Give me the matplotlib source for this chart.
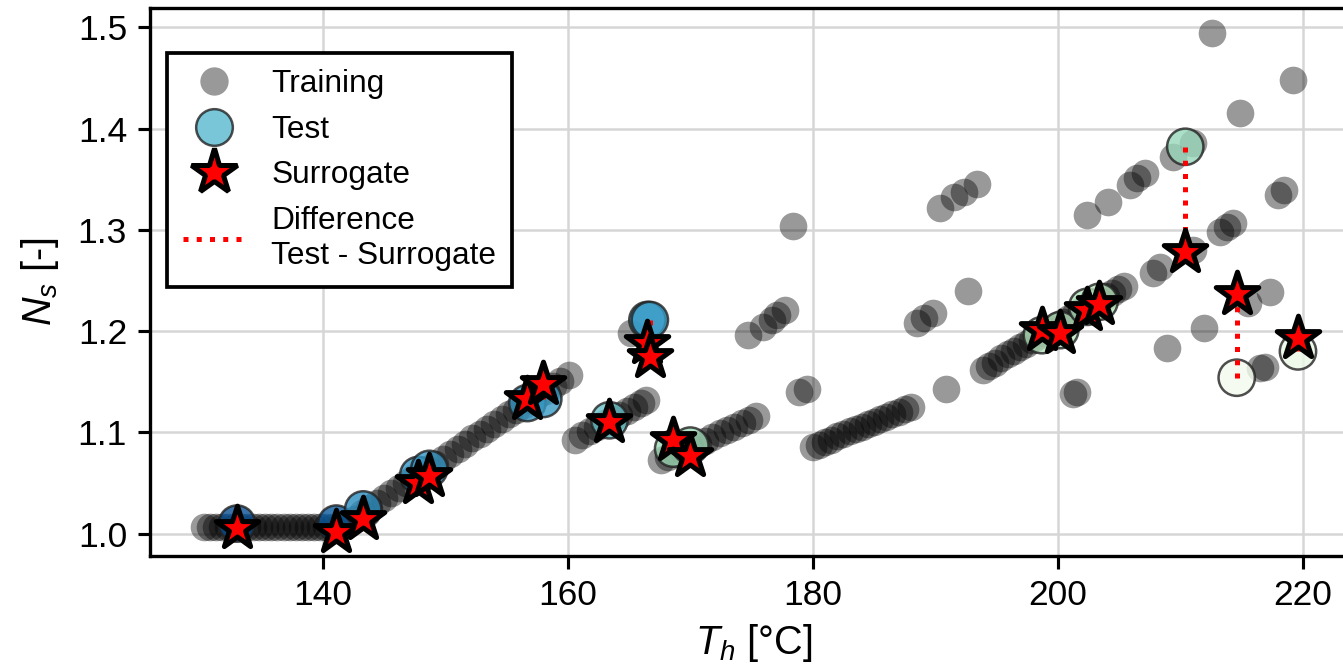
import matplotlib
matplotlib.use("Agg")
import matplotlib.pyplot as plt
from matplotlib.lines import Line2D

plt.rcParams["font.family"] = ["Liberation Sans", "DejaVu Sans"]
plt.rcParams["mathtext.fontset"] = "custom"
plt.rcParams["mathtext.rm"] = "Liberation Sans"
plt.rcParams["mathtext.it"] = "Liberation Sans:italic"

# --- donnees d'entrainement ---
plateau_T = [130.3, 130.8, 131.3, 131.8, 132.3, 132.8, 133.3, 133.8, 134.3, 134.8, 135.3, 135.8,
             136.3, 136.8, 137.3, 137.8, 138.3, 138.8, 139.3, 139.8, 140.3, 140.8, 141.3]
plateau_N = [1.007, 1.007, 1.007, 1.007, 1.007, 1.007, 1.007, 1.007, 1.007, 1.007, 1.007, 1.007,
             1.007, 1.007, 1.007, 1.007, 1.007, 1.007, 1.007, 1.007, 1.007, 1.007, 1.008]

rise_T = [142.0, 142.6, 143.2, 143.8, 144.4, 145.0, 145.6, 146.2, 146.8, 147.4, 148.0, 148.6,
          149.2, 149.8, 150.4, 151.0, 151.6, 152.2, 152.8, 153.4, 154.0, 154.6, 155.2, 155.8,
          156.4, 157.0, 157.6, 158.2, 158.8, 159.4, 160.1]
rise_N = [1.010, 1.015, 1.020, 1.025, 1.030, 1.035, 1.040, 1.045, 1.050, 1.055, 1.059, 1.064,
          1.069, 1.074, 1.079, 1.084, 1.089, 1.094, 1.098, 1.103, 1.108, 1.113, 1.118, 1.122,
          1.127, 1.132, 1.137, 1.141, 1.146, 1.151, 1.157]

seg_c_T = [160.6, 161.2, 161.8, 162.4, 163.0, 163.6, 164.2, 164.8, 165.4, 166.0, 166.4, 165.2]
seg_c_N = [1.093, 1.097, 1.101, 1.105, 1.109, 1.113, 1.117, 1.121, 1.125, 1.129, 1.132, 1.198]

seg_d_T = [167.6, 168.2, 168.8, 169.4, 170.0, 170.6, 171.2, 171.8, 172.4, 173.0, 173.6, 174.2,
           174.8, 175.4]
seg_d_N = [1.073, 1.076, 1.079, 1.082, 1.086, 1.089, 1.092, 1.095, 1.099, 1.102, 1.105, 1.109,
           1.112, 1.116]

mid_T = [174.7, 175.9, 176.7, 177.1, 177.7, 178.4, 178.9, 179.5,
         188.5, 189.1, 189.8, 190.9, 192.7, 190.4, 191.5, 192.3, 193.4]
mid_N = [1.196, 1.204, 1.211, 1.216, 1.221, 1.304, 1.140, 1.143,
         1.208, 1.213, 1.218, 1.143, 1.240, 1.322, 1.332, 1.337, 1.345]

seg_e_T = [180.0, 180.5, 181.0, 181.5, 182.0, 182.5, 183.0, 183.5, 184.0, 184.5, 185.0, 185.5,
           186.0, 186.5, 187.0, 187.5, 188.0]
seg_e_N = [1.086, 1.088, 1.091, 1.093, 1.096, 1.098, 1.101, 1.103, 1.105, 1.108, 1.110, 1.113,
           1.115, 1.118, 1.120, 1.123, 1.125]

seg_f_T = [193.9, 194.4, 194.9, 195.4, 195.9, 196.4, 196.9, 197.4, 197.9, 198.4, 198.9, 199.4,
           199.9, 200.4, 200.9, 201.4, 201.9, 202.4, 202.9, 203.4, 203.9, 204.4, 204.9, 205.4,
           207.8, 208.3, 211.0, 213.2, 213.8, 214.3]
seg_f_N = [1.162, 1.166, 1.169, 1.173, 1.177, 1.180, 1.184, 1.187, 1.191, 1.195, 1.198, 1.202,
           1.206, 1.209, 1.213, 1.217, 1.220, 1.224, 1.227, 1.231, 1.235, 1.238, 1.242, 1.245,
           1.257, 1.263, 1.280, 1.298, 1.303, 1.307]

upper_T = [202.4, 204.1, 205.9, 206.5, 207.1, 209.4, 211.0,
           212.6, 214.9, 219.2, 218.0, 218.5, 217.3, 215.5, 216.5, 216.9,
           208.9, 211.9, 201.2, 201.6]
upper_N = [1.315, 1.327, 1.344, 1.351, 1.356, 1.372, 1.386,
           1.494, 1.415, 1.448, 1.334, 1.339, 1.239, 1.228, 1.164, 1.165,
           1.183, 1.203, 1.138, 1.140]

train_T = plateau_T + rise_T + seg_c_T + seg_d_T + mid_T + seg_e_T + seg_f_T + upper_T
train_N = plateau_N + rise_N + seg_c_N + seg_d_N + mid_N + seg_e_N + seg_f_N + upper_N

# --- points de test et prediction du substitut ---
test_T = [133.0, 141.1, 143.3, 147.8, 148.7, 156.7, 158.0, 163.4, 166.5, 166.7,
          168.6, 170.0, 198.7, 200.2, 202.4, 203.4, 210.4, 214.6, 219.6]
test_N = [1.010, 1.010, 1.024, 1.058, 1.064, 1.129, 1.133, 1.112, 1.211, 1.211,
          1.084, 1.087, 1.196, 1.201, 1.224, 1.229, 1.382, 1.154, 1.180]
surr_N = [1.006, 1.002, 1.015, 1.050, 1.057, 1.133, 1.148, 1.110, 1.188, 1.174,
          1.093, 1.077, 1.201, 1.198, 1.221, 1.227, 1.278, 1.237, 1.193]
test_c = [0.95, 0.92, 0.75, 0.72, 0.72, 0.72, 0.70, 0.55, 0.70, 0.70,
          0.40, 0.40, 0.33, 0.33, 0.35, 0.33, 0.42, 0.02, 0.06]

fig = plt.figure(figsize=(1343 / 300, 671 / 300), dpi=300)
ax = fig.add_axes([150 / 1343, 115 / 671, 1208 / 1343, 548 / 671])

ax.grid(color="#d6d6d6", lw=0.6)
ax.set_axisbelow(True)

ax.scatter(train_T, train_N, s=44, c="k", alpha=0.4, lw=0, zorder=2)
ax.scatter(test_T, test_N, s=76, c=test_c, cmap="GnBu", vmin=0, vmax=1, alpha=0.8,
           edgecolors="#222222", linewidths=0.6, zorder=3)
for t, yt, ys in zip(test_T, test_N, surr_N):
    ax.plot([t, t], [yt, ys], color="red", ls=":", lw=1.2, zorder=4)
ax.scatter(test_T, surr_N, marker="*", s=115, c="red", edgecolors="k", linewidths=1.2, zorder=5)

ax.set_xlim(125.9, 224.5)
ax.set_ylim(0.978, 1.519)
ax.set_xticks([140, 160, 180, 200, 220])
ax.set_yticks([1.0, 1.1, 1.2, 1.3, 1.4, 1.5])
ax.set_yticklabels(["1.0", "1.1", "1.2", "1.3", "1.4", "1.5"])
ax.tick_params(labelsize=8.5, width=0.75, length=3, pad=2.5)
for sp in ax.spines.values():
    sp.set_linewidth(0.8)

ax.set_xlabel("$T_h$ [°C]", fontsize=9.5, labelpad=2.5)
ax.set_ylabel("$N_s$ [-]", fontsize=9.5, labelpad=4)

cmap = plt.get_cmap("GnBu")
handles = [
    Line2D([], [], ls="none", marker="o", ms=6.8, mfc="k", mec="none", alpha=0.4),
    Line2D([], [], ls="none", marker="o", ms=8.8, mfc=cmap(0.6), mec="#222222", mew=0.6, alpha=0.8),
    Line2D([], [], ls="none", marker="*", ms=11.5, mfc="red", mec="k", mew=1.2),
    Line2D([], [], color="red", ls=":", lw=1.2),
]
labels = ["Training", "Test", "Surrogate", "Difference\nTest - Surrogate"]
leg = ax.legend(handles, labels, loc="upper left", bbox_to_anchor=(0.014, 0.918),
                borderaxespad=0, fontsize=7.6, fancybox=False, framealpha=1,
                edgecolor="k", handlelength=2.0, handletextpad=0.8, labelspacing=0.5,
                borderpad=0.5)
leg.get_frame().set_linewidth(0.9)

fig.savefig("out.png", dpi=300)
